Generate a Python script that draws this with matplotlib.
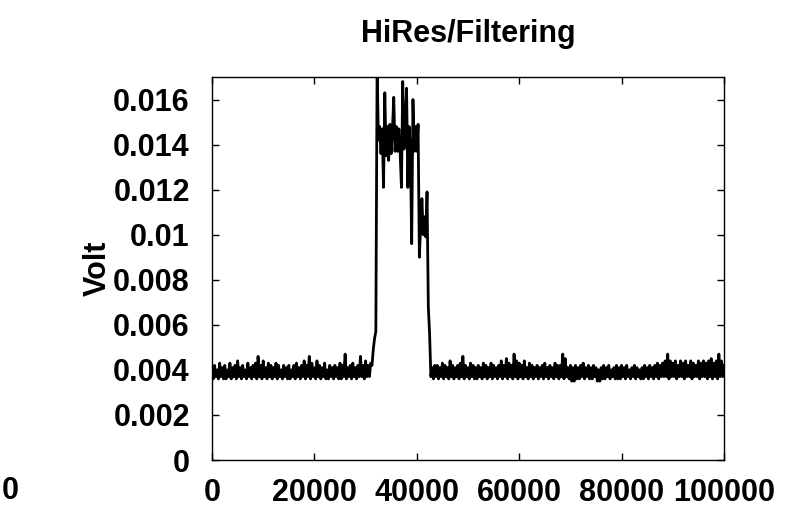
import numpy as np
import matplotlib
matplotlib.use("Agg")
import matplotlib.pyplot as plt

SAMPLE_STEP = 250
volt_mv = [
    4.1, 3.6, 4.2, 3.7, 4.0, 3.6, 4.3, 3.7, 4.1, 3.6, 4.2, 3.6, 4.0, 3.7, 4.3, 3.6,
    4.1, 3.7, 4.2, 3.6, 4.4, 3.7, 4.1, 3.6, 4.2, 3.7, 4.0, 3.6, 4.3, 3.7, 4.1, 3.6,
    4.2, 3.7, 4.3, 3.6, 4.6, 3.7, 4.2, 3.6, 4.4, 3.7, 4.1, 3.6, 4.3, 3.7, 4.2, 3.6,
    4.1, 3.7, 4.3, 3.6, 4.2, 3.7, 4.0, 3.6, 4.2, 3.7, 4.1, 3.6, 4.2, 3.6, 4.0, 3.7,
    4.2, 3.6, 4.3, 3.7, 4.1, 3.6, 4.2, 3.7, 4.4, 3.6, 4.2, 3.7, 4.6, 3.6, 4.3, 3.7,
    4.1, 3.6, 4.4, 3.7, 4.2, 3.6, 4.1, 3.7, 4.3, 3.6, 4.0, 3.6, 4.2, 3.7, 4.1, 3.6,
    4.2, 3.7, 4.1, 3.6, 4.3, 3.6, 4.2, 3.7, 4.7, 3.6, 4.1, 3.7, 4.2, 3.6, 4.3, 3.7,
    4.1, 3.6, 4.2, 3.7, 4.6, 3.7, 4.2, 3.6, 4.4, 3.7, 4.2, 3.7, 4.3, 4.2, 4.9, 5.4,
    5.7, 17.5, 14.2, 14.8, 13.6, 14.7, 12.1, 16.3, 13.5, 14.8, 13.3, 14.9, 13.6, 14.7, 16.1, 13.7,
    14.8, 13.7, 14.7, 13.6, 12.1, 16.8, 13.8, 14.9, 16.5, 12.1, 14.8, 13.7, 9.6, 16.0, 13.7, 14.8,
    13.7, 14.9, 9.0, 10.4, 11.6, 10.0, 10.8, 9.9, 11.9, 6.8, 5.6, 3.7, 4.1, 3.6, 4.2, 3.7,
    4.2, 3.6, 4.1, 3.7, 4.3, 3.6, 4.2, 3.7, 4.1, 3.6, 4.4, 3.7, 4.2, 3.6, 4.1, 3.7,
    4.2, 3.6, 4.3, 3.7, 4.6, 3.6, 4.2, 3.7, 4.1, 3.6, 4.3, 3.7, 4.2, 3.6, 4.1, 3.6,
    4.2, 3.7, 4.1, 3.6, 4.3, 3.7, 4.2, 3.6, 4.1, 3.7, 4.3, 3.6, 4.2, 3.7, 4.1, 3.6,
    4.2, 3.7, 4.4, 3.6, 4.2, 3.7, 4.5, 3.6, 4.3, 3.7, 4.2, 3.6, 4.7, 3.7, 4.4, 3.6,
    4.3, 3.7, 4.2, 3.6, 4.4, 3.7, 4.1, 3.6, 4.3, 3.7, 4.2, 3.6, 4.1, 3.7, 4.2, 3.6,
    4.1, 3.7, 4.2, 3.6, 4.3, 3.7, 4.1, 3.6, 4.2, 3.7, 4.1, 3.6, 4.3, 3.7, 4.2, 3.6,
    4.2, 3.7, 4.7, 3.6, 4.5, 3.7, 4.1, 3.6, 4.2, 3.5, 4.1, 3.5, 4.2, 3.6, 4.1, 3.6,
    4.2, 3.7, 4.3, 3.6, 4.1, 3.7, 4.2, 3.6, 4.1, 3.6, 4.2, 3.7, 4.1, 3.5, 4.0, 3.5,
    4.1, 3.6, 4.2, 3.6, 4.1, 3.7, 4.2, 3.6, 4.0, 3.7, 4.1, 3.6, 4.2, 3.6, 4.1, 3.6,
    4.2, 3.7, 4.1, 3.6, 4.2, 3.7, 4.0, 3.6, 4.1, 3.7, 4.2, 3.6, 4.1, 3.7, 4.0, 3.6,
    4.1, 3.6, 4.2, 3.7, 4.1, 3.6, 4.2, 3.7, 4.1, 3.6, 4.2, 3.7, 4.3, 3.6, 4.2, 3.7,
    4.3, 3.7, 4.4, 3.7, 4.7, 3.6, 4.4, 3.7, 4.3, 3.7, 4.4, 3.6, 4.2, 3.7, 4.4, 3.7,
    4.3, 3.6, 4.4, 3.7, 4.2, 3.7, 4.4, 3.6, 4.3, 3.7, 4.2, 3.7, 4.4, 3.6, 4.3, 3.7,
    4.4, 3.7, 4.3, 3.6, 4.4, 3.7, 4.5, 3.6, 4.3, 3.7, 4.4, 3.6, 4.7, 3.7, 4.4, 3.7,
    4.2,
]
x_ticks = [0, 20000, 40000, 60000, 80000, 100000]
y_ticks = [0, 0.002, 0.004, 0.006, 0.008, 0.01, 0.012, 0.014, 0.016]
y_tick_labels = ["0", "0.002", "0.004", "0.006", "0.008", "0.01", "0.012", "0.014", "0.016"]

plt.rcParams["font.family"] = ["Liberation Sans", "DejaVu Sans"]
plt.rcParams["font.weight"] = "bold"

fig = plt.figure(figsize=(8.09, 5.09), dpi=100, facecolor="white")
ax = fig.add_axes([212 / 809, 49 / 509, 512 / 809, 383 / 509])

samples = np.arange(len(volt_mv)) * SAMPLE_STEP
volts = np.array(volt_mv) / 1000.0
ax.plot(samples, volts, color="black", linewidth=2.0)

ax.set_xlim(0, 100000)
ax.set_ylim(0, 0.017)
ax.set_xticks(x_ticks)
ax.set_xticklabels([str(t) for t in x_ticks])
ax.set_yticks(y_ticks)
ax.set_yticklabels(y_tick_labels)

ax.tick_params(direction="in", length=5, width=1.0, top=True, right=True,
               labelsize=22)
ax.tick_params(axis="x", pad=13)
ax.tick_params(axis="y", pad=16)
for lbl in ax.get_xticklabels() + ax.get_yticklabels():
    lbl.set_fontweight("bold")
for spine in ax.spines.values():
    spine.set_linewidth(1.0)
    spine.set_color("black")

ax.set_title("HiRes/Filtering", fontsize=22, fontweight="bold", pad=25)
ax.set_ylabel("Volt", fontsize=22, fontweight="bold")
ax.yaxis.set_label_coords(-0.193, 0.5)

# stray label at the lower left corner of the original
fig.text(10 / 809, 1 - 491 / 509, "0", fontsize=22, fontweight="bold",
         ha="center", va="center")

fig.savefig("out.png", dpi=100, facecolor="white")
